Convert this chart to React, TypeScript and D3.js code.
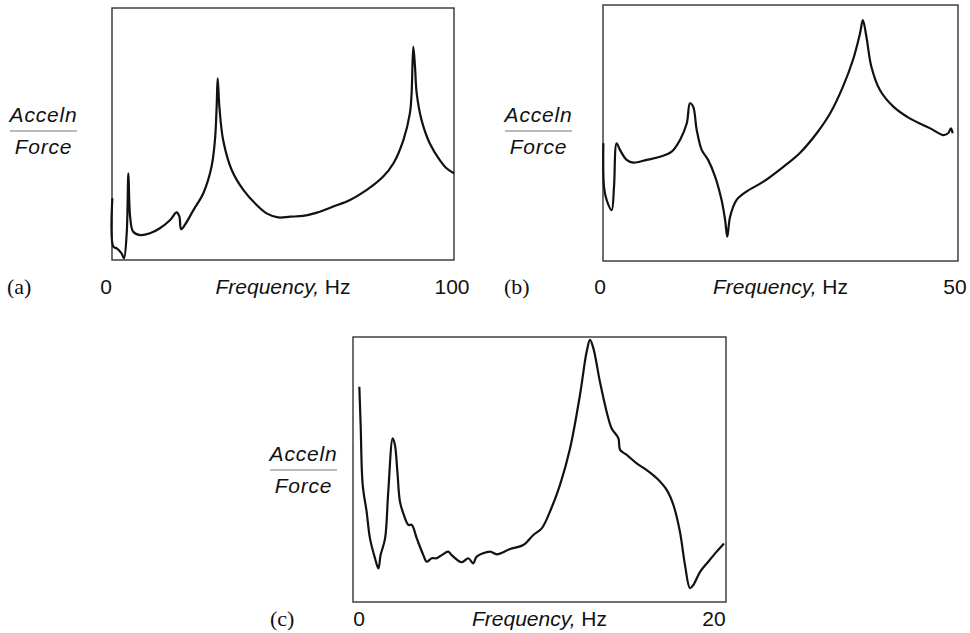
import React, { useEffect, useRef } from "react";
import * as d3 from "d3";

// panel (a): 0-100 Hz, relative acceleration/force amplitude (0 = bottom of frame)
const freqA = [0.1, 0.4, 1.4, 2.8, 3.5, 4.3, 4.8, 5.3, 6.2, 8.2, 11.1, 14.0, 17.0, 18.9, 19.7, 20.2, 21.3, 23.8, 26.7, 29.1, 30.1, 30.6, 30.9, 31.4, 32.5, 35.0, 38.4, 42.3, 45.2, 48.6, 52.1, 55.9, 59.9, 64.7, 69.6, 74.5, 79.3, 82.3, 85.2, 87.1, 87.6, 88.1, 88.6, 89.1, 90.5, 92.9, 95.8, 97.8, 100];
const magA = [24.5, 5.3, 4.6, 2.6, 0.7, 10.6, 34.4, 17.2, 11.2, 9.9, 10.6, 12.6, 15.9, 18.9, 17.2, 12.2, 13.9, 19.8, 26.5, 37.0, 47.6, 60.8, 72.1, 60.8, 47.6, 35.7, 27.8, 21.8, 18.5, 16.9, 17.2, 17.5, 18.8, 21.2, 23.8, 27.8, 33.1, 38.4, 47.6, 58.2, 66.1, 84.7, 76.7, 66.1, 55.6, 46.3, 39.7, 36.4, 34.4];

// panel (b): 0-50 Hz
const freqB = [0.05, 0.14, 0.52, 1.22, 1.55, 1.92, 2.39, 3.33, 4.27, 6.15, 8.03, 9.67, 10.85, 11.8, 12.25, 12.7, 13.2, 13.9, 14.8, 15.8, 16.7, 17.2, 17.5, 17.9, 18.8, 20.2, 22.6, 25.4, 27.7, 30.1, 32.0, 33.8, 35.2, 36.2, 36.6, 37.1, 37.8, 39.0, 40.9, 43.2, 46.1, 47.9, 48.6, 49.0, 49.25];
const magB = [46.0, 29.0, 23.8, 19.9, 29.0, 46.0, 43.4, 39.5, 38.4, 39.5, 40.7, 42.7, 47.3, 53.8, 61.6, 60.3, 51.2, 43.4, 39.5, 32.9, 23.8, 16.0, 9.5, 17.3, 23.8, 27.1, 31.0, 36.8, 42.1, 49.9, 57.7, 68.1, 78.5, 88.9, 94.1, 87.6, 75.9, 66.8, 60.3, 55.7, 51.8, 49.2, 49.9, 51.8, 49.9];

// panel (c): 0-20 Hz
const freqC = [0.34, 0.41, 0.52, 0.73, 0.91, 1.18, 1.36, 1.48, 1.72, 1.89, 2.13, 2.25, 2.38, 2.52, 2.73, 2.97, 3.15, 3.42, 3.77, 3.95, 4.22, 4.49, 4.76, 5.11, 5.29, 5.83, 6.18, 6.45, 6.63, 7.35, 7.71, 8.42, 9.13, 9.67, 10.12, 10.56, 11.10, 11.64, 12.17, 12.53, 12.71, 12.89, 13.24, 13.60, 13.87, 14.23, 14.32, 14.68, 15.21, 15.75, 16.29, 16.82, 17.18, 17.53, 17.80, 18.07, 18.25, 18.61, 19.05, 19.5, 19.89];
const magC = [81.2, 66.8, 44.2, 34.1, 24.0, 16.5, 12.7, 17.7, 24.0, 41.6, 61.8, 59.2, 49.2, 37.8, 32.8, 29.1, 29.1, 24.0, 17.7, 15.2, 16.5, 16.5, 17.7, 19.0, 17.7, 15.0, 16.5, 14.6, 17.1, 19.0, 18.0, 20.0, 21.5, 25.3, 27.8, 34.1, 44.2, 58.0, 78.1, 94.5, 98.9, 95.7, 83.1, 71.8, 65.5, 61.8, 57.4, 55.5, 52.3, 49.8, 46.7, 42.3, 36.6, 26.5, 14.0, 5.2, 6.4, 11.4, 15.2, 19.0, 22.1];

const panelTags = ["(a)", "(b)", "(c)"];
const xTicksA = [0, 100];
const xTicksB = [0, 50];
const xTicksC = [0, 20];

const W = 970;
const H = 633;
const sans = "'Liberation Sans', Arial, sans-serif";
const serif = "'Liberation Serif', 'Times New Roman', serif";

type Panel = {
  freq: number[];
  mag: number[];
  ticks: number[];
  tag: string;
  box: { x0: number; x1: number; y0: number; y1: number };
  labelBase: number; // baseline of the frequency row
  tagX: number;
  tickShift: [number, number];
  ylab: { x0: number; x1: number; rule: number };
};

const panels: Panel[] = [
  {
    freq: freqA, mag: magA, ticks: xTicksA, tag: panelTags[0],
    box: { x0: 112, x1: 454, y0: 8, y1: 260 },
    labelBase: 294, tagX: 7, tickShift: [-6, -2],
    ylab: { x0: 10, x1: 77, rule: 131 },
  },
  {
    freq: freqB, mag: magB, ticks: xTicksB, tag: panelTags[1],
    box: { x0: 603, x1: 958, y0: 5, y1: 261 },
    labelBase: 294, tagX: 504, tickShift: [-3, -3],
    ylab: { x0: 505, x1: 572, rule: 131 },
  },
  {
    freq: freqC, mag: magC, ticks: xTicksC, tag: panelTags[2],
    box: { x0: 353, x1: 726, y0: 337, y1: 602 },
    labelBase: 626, tagX: 270, tickShift: [6, -12],
    ylab: { x0: 270, x1: 337, rule: 470 },
  },
];

export default function App() {
  const ref = useRef<SVGSVGElement>(null);

  useEffect(() => {
    const svg = d3.select(ref.current);
    svg.selectAll("*").remove();

    panels.forEach((p) => {
      const g = svg.append("g");
      const x = d3
        .scaleLinear()
        .domain([0, p.ticks[1]])
        .range([p.box.x0, p.box.x1]);
      const y = d3.scaleLinear().domain([0, 100]).range([p.box.y1, p.box.y0]);

      g.append("rect")
        .attr("x", p.box.x0)
        .attr("y", p.box.y0)
        .attr("width", p.box.x1 - p.box.x0)
        .attr("height", p.box.y1 - p.box.y0)
        .attr("fill", "none")
        .attr("stroke", "#333")
        .attr("stroke-width", 1.4);

      const pts = p.freq.map((f, i) => [f, p.mag[i]] as [number, number]);
      const line = d3
        .line<[number, number]>()
        .x((d) => x(d[0]))
        .y((d) => y(d[1]))
        .curve(d3.curveCatmullRom.alpha(0.5));

      g.append("path")
        .datum(pts)
        .attr("d", line)
        .attr("fill", "none")
        .attr("stroke", "#111")
        .attr("stroke-width", 2.2)
        .attr("stroke-linejoin", "round");

      // tick labels at both ends
      p.ticks.forEach((t, i) => {
        g.append("text")
          .attr("x", x(t) + p.tickShift[i])
          .attr("y", p.labelBase)
          .attr("text-anchor", "middle")
          .attr("font-family", sans)
          .attr("font-size", 21)
          .attr("fill", "#111")
          .text(t);
      });

      const fl = g
        .append("text")
        .attr("x", (p.box.x0 + p.box.x1) / 2)
        .attr("y", p.labelBase)
        .attr("text-anchor", "middle")
        .attr("font-family", sans)
        .attr("font-size", 21)
        .attr("fill", "#111");
      fl.append("tspan").attr("font-style", "italic").text("Frequency,");
      fl.append("tspan").text(" Hz");

      g.append("text")
        .attr("x", p.tagX)
        .attr("y", p.labelBase)
        .attr("font-family", serif)
        .attr("font-size", 22)
        .attr("fill", "#111")
        .text(p.tag);

      // Acceln / Force fraction
      const cx = (p.ylab.x0 + p.ylab.x1) / 2;
      g.append("text")
        .attr("x", cx)
        .attr("y", p.ylab.rule - 9)
        .attr("text-anchor", "middle")
        .attr("font-family", sans)
        .attr("font-style", "italic")
        .attr("font-size", 21)
        .attr("letter-spacing", 0.8)
        .attr("fill", "#111")
        .text("Acceln");
      g.append("line")
        .attr("x1", p.ylab.x0)
        .attr("x2", p.ylab.x1)
        .attr("y1", p.ylab.rule)
        .attr("y2", p.ylab.rule)
        .attr("stroke", "#777")
        .attr("stroke-width", 1.2);
      g.append("text")
        .attr("x", cx)
        .attr("y", p.ylab.rule + 23)
        .attr("text-anchor", "middle")
        .attr("font-family", sans)
        .attr("font-style", "italic")
        .attr("font-size", 21)
        .attr("letter-spacing", 0.8)
        .attr("fill", "#111")
        .text("Force");
    });
  }, []);

  return (
    <svg
      ref={ref}
      width={W}
      height={H}
      style={{ position: "absolute", left: 0, top: 0, background: "#fff" }}
    />
  );
}
